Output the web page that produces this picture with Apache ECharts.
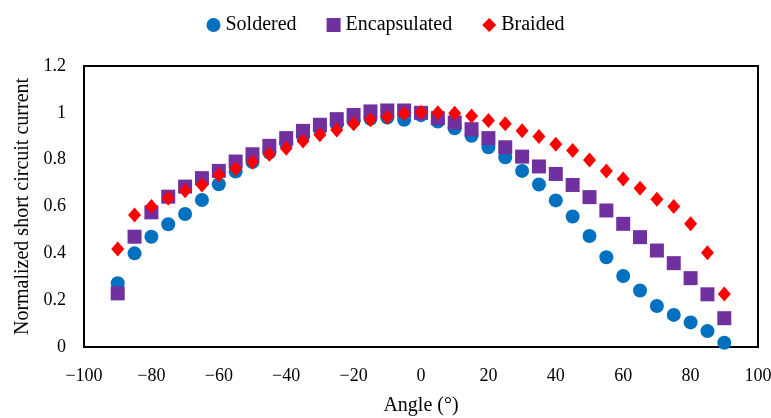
<!DOCTYPE html>
<html><head><meta charset="utf-8">
<script src="https://cdn.jsdelivr.net/npm/echarts@6/dist/echarts.min.js"></script>
<style>html,body{margin:0;padding:0;background:#fff}#c{width:771px;height:418px}</style>
</head><body><div id="c"></div>
<script>
const angles = [-90,-85,-80,-75,-70,-65,-60,-55,-50,-45,-40,-35,-30,-25,-20,-15,-10,-5,0,5,10,15,20,25,30,35,40,45,50,55,60,65,70,75,80,85,90];
const soldered = [0.272,0.40,0.471,0.524,0.568,0.628,0.695,0.749,0.79,0.83,0.87,0.90,0.93,0.95,0.965,0.975,0.98,0.970,0.99,0.963,0.934,0.902,0.853,0.81,0.752,0.694,0.626,0.557,0.474,0.383,0.303,0.241,0.175,0.137,0.105,0.068,0.018];
const encapsulated = [0.229,0.471,0.575,0.642,0.685,0.721,0.752,0.792,0.823,0.859,0.892,0.923,0.949,0.973,0.991,1.006,1.01,1.01,1.0,0.977,0.959,0.930,0.892,0.853,0.813,0.771,0.739,0.692,0.640,0.583,0.526,0.469,0.412,0.358,0.294,0.225,0.123];
const braided = [0.419,0.564,0.600,0.635,0.667,0.692,0.735,0.761,0.789,0.823,0.849,0.880,0.906,0.927,0.953,0.970,0.981,0.996,1.003,1.0,0.998,0.987,0.967,0.953,0.924,0.899,0.866,0.839,0.799,0.752,0.717,0.678,0.631,0.600,0.526,0.403,0.226];
const seriesNames = ['Soldered','Encapsulated','Braided'];
const xTitle = 'Angle (°)';
const yTitle = 'Normalized short circuit current';

const FONT = 'Liberation Serif';
const pair = (arr) => angles.map((a,i)=>[a,arr[i]]);
const chart = echarts.init(document.getElementById('c'), null, {renderer:'canvas'});
chart.setOption({
  animation:false,
  textStyle:{fontFamily:FONT},
  legend:{
    top:10, left:'center', itemGap:30, itemWidth:14, itemHeight:14,
    textStyle:{fontFamily:FONT,fontSize:20,color:'#000'},
    data:seriesNames
  },
  grid:{left:84,right:13,top:66,bottom:71,outerBoundsMode:'none',containLabel:false,show:true,borderColor:'#000',borderWidth:2,backgroundColor:'transparent'},
  xAxis:{
    type:'value',min:-100,max:100,interval:20,
    name:xTitle,nameLocation:'middle',nameGap:49,
    nameTextStyle:{fontFamily:FONT,fontSize:20,color:'#000'},
    axisLine:{show:false},axisTick:{show:false},splitLine:{show:false},
    axisLabel:{fontFamily:FONT,fontSize:18,color:'#000',margin:20,
      formatter:v=> v<0 ? '\u2212'+Math.abs(v) : String(v)}
  },
  yAxis:{
    type:'value',min:0,max:1.2,interval:0.2,
    name:yTitle,nameLocation:'middle',nameGap:51,
    nameTextStyle:{fontFamily:FONT,fontSize:20,color:'#000'},
    axisLine:{show:false},axisTick:{show:false},splitLine:{show:false},
    axisLabel:{fontFamily:FONT,fontSize:18,color:'#000',margin:18,
      formatter:v=> String(Math.round(v*10)/10)}
  },
  series:[
    {name:seriesNames[0],type:'scatter',symbol:'circle',symbolSize:14,itemStyle:{color:'#0070C0',opacity:1},data:pair(soldered)},
    {name:seriesNames[1],type:'scatter',symbol:'rect',symbolSize:14,itemStyle:{color:'#7030A0',opacity:1},data:pair(encapsulated)},
    {name:seriesNames[2],type:'scatter',symbol:'diamond',symbolSize:[13,15],itemStyle:{color:'#FF0000',opacity:1},data:pair(braided)}
  ]
});
</script></body></html>
